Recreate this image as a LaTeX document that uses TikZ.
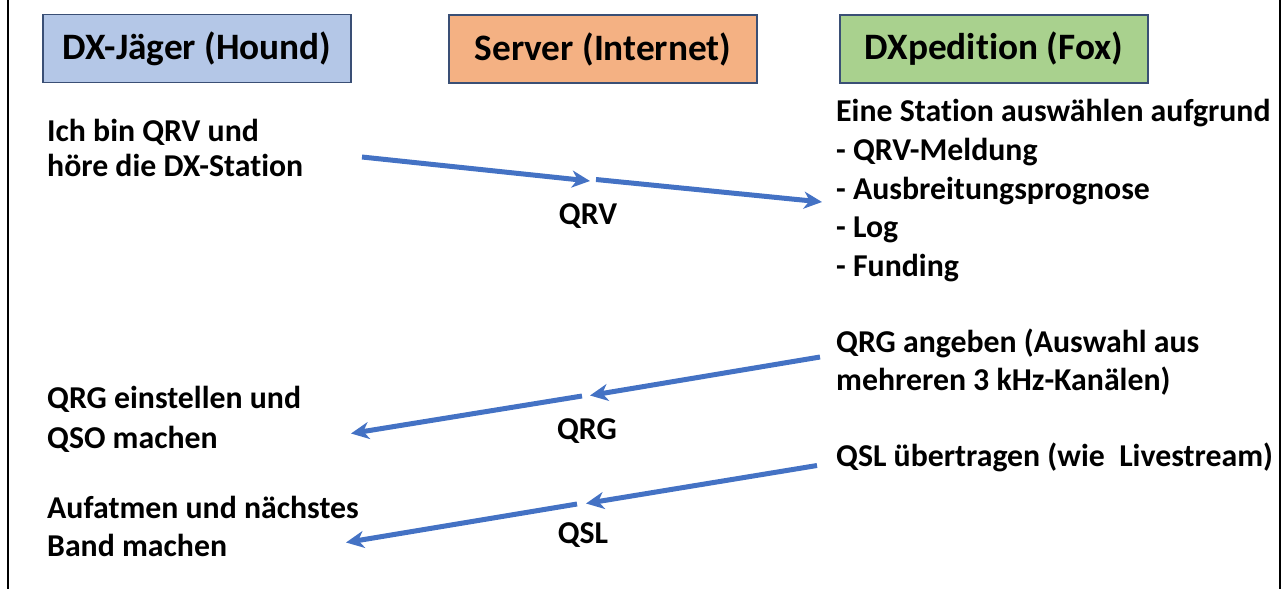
\documentclass[tikz,border=0pt]{standalone}
\usepackage{fontspec}
\setmainfont{Carlito}[Ligatures={NoCommon}]
\usetikzlibrary{arrows.meta}
\definecolor{arrowblue}{HTML}{4472C4}
\definecolor{houndfill}{HTML}{B4C7E7}
\definecolor{serverfill}{HTML}{F4B183}
\definecolor{foxfill}{HTML}{A9D18E}
\definecolor{boxline}{HTML}{3A4F75}
\tikzset{
  headbox/.style={draw=boxline, line width=1.2pt, minimum width=308pt, minimum height=68pt, inner sep=0pt,
    font=\fontsize{37.3}{44}\selectfont\bfseries},
  bodytext/.style={anchor=base west, inner sep=0pt, align=left, font=\fontsize{31.8}{38.5}\selectfont\bfseries},
  labeltext/.style={anchor=base, inner sep=0pt, font=\fontsize{31.8}{36}\selectfont\bfseries},
  flow/.style={draw=arrowblue, line width=5pt, -{Stealth[length=18pt,width=17pt,inset=5.5pt]}},
  frameline/.style={draw=black, line width=1.8pt}
}
\begin{document}
\begin{tikzpicture}[x=1pt,y=-1pt]
\useasboundingbox (0,0) rectangle (1285,589);
\draw[frameline] (8,0) -- (8,589);
\draw[frameline, line width=1.4pt] (1280,0) -- (1280,589);

\node[headbox, fill=houndfill] (hound) at (197,48.5) {DX-Jäger (Hound)};
\node[headbox, fill=serverfill] (server) at (603,49) {Server (Internet)};
\node[headbox, fill=foxfill] (fox) at (994,49) {DXpedition (Fox)};

\node[bodytext, font=\fontsize{31.8}{35}\selectfont\bfseries] (ready) at (47,176.7) {Ich bin QRV und\\höre die DX-Station};
\node[bodytext, font=\fontsize{31.8}{38.75}\selectfont\bfseries] (select) at (836,276.7) {Eine Station auswählen aufgrund\\- QRV-Meldung\\- Ausbreitungsprognose\\- Log\\- Funding};
\node[bodytext] (qrgset) at (836,390.7) {QRG angeben (Auswahl aus\\mehreren 3 kHz-Kanälen)};
\node[bodytext, font=\fontsize{31.8}{39.5}\selectfont\bfseries] (qrgtune) at (47,448) {QRG einstellen und\\QSO machen};
\node[bodytext] (qsl) at (836,466.7) {QSL übertragen (wie\ \ Livestream)};
\node[bodytext] (relief) at (47,556.7) {Aufatmen und nächstes\\Band machen};

\coordinate (a1s) at (362,157);
\coordinate (a1m) at (590,181);
\coordinate (a1n) at (596,179.5);
\coordinate (a1e) at (822,202);
\draw[flow] (a1s) -- (a1m);
\draw[flow] (a1n) -- (a1e);
\node[labeltext] (lqrv) at (588,224.3) {QRV};

\coordinate (a2s) at (820,357);
\coordinate (a2m) at (590,395.5);
\coordinate (a2n) at (582,396);
\coordinate (a2e) at (351,433.5);
\draw[flow] (a2s) -- (a2m);
\draw[flow] (a2n) -- (a2e);
\node[labeltext] (lqrg) at (587,439.3) {QRG};

\coordinate (a3s) at (817,465.5);
\coordinate (a3m) at (586,503.5);
\coordinate (a3n) at (577,504);
\coordinate (a3e) at (346,542.5);
\draw[flow] (a3s) -- (a3m);
\draw[flow] (a3n) -- (a3e);
\node[labeltext] (lqsl) at (583,543.3) {QSL};
\end{tikzpicture}
\end{document}
